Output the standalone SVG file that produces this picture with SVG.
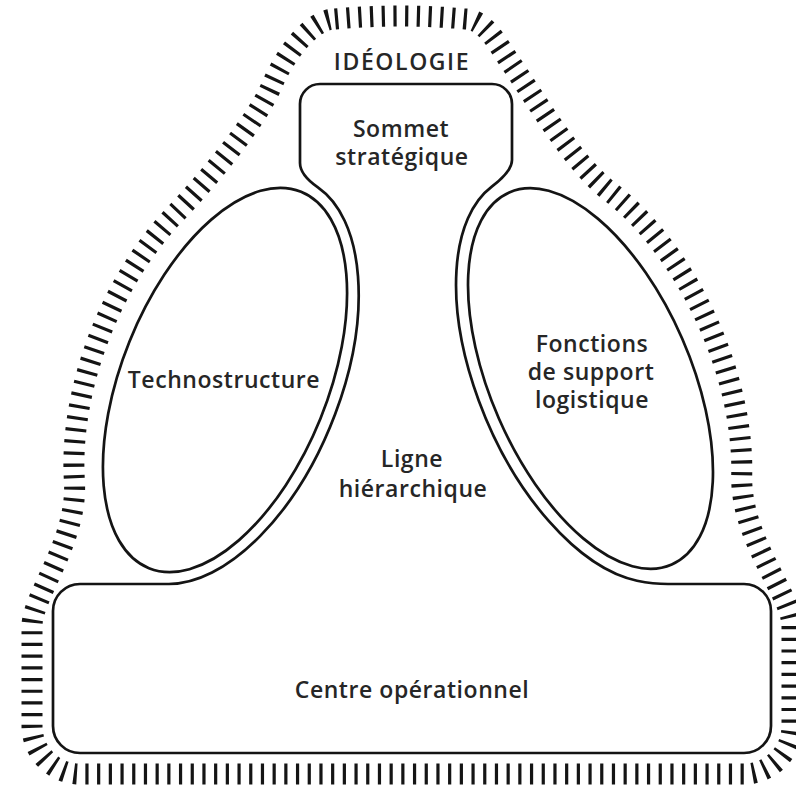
<svg xmlns="http://www.w3.org/2000/svg" width="796" height="793" viewBox="0 0 796 793">
<style>
.line{fill:none;stroke:#141414;stroke-width:2.7;stroke-linejoin:round}
.hatch{fill:none;stroke:#141414;stroke-width:21;stroke-dasharray:3.2 8.5}
.t{font-family:"Open Sans","DejaVu Sans",sans-serif;font-size:23px;font-weight:600;letter-spacing:0.55px;fill:#262626;text-anchor:middle}
.caps{letter-spacing:1.6px}
</style>
<rect width="796" height="793" fill="#ffffff"/>
<g id="ideologie">
<path class="hatch" d="M335,19 Q400,13 465,19 C485,19 497.5,44 510,62 C535.7,98.9 573,163.5 608.8,190.7 A130 233 -23.6 0 1 741.7,475.9 C740.6,540 792,595 792,626 L792,726 A48 48 0 0 1 744,774 L80,774 A48 48 0 0 1 32,726 L32,626 C32,596 78.2,540.6 74.4,480.7 A133 233 22 0 1 174,215.3 C205.1,182.8 256.6,121.9 272,85 C283.6,57.3 310,19 335,19 Z"/>
<text class="t caps" x="402" y="70">IDÉOLOGIE</text>
</g>
<g id="noyau">
<path class="line" d="M300,104 A20 20 0 0 1 320,84 L492,84 A20 20 0 0 1 512,104 L512,160 Q512,171.4 491.8,186.6 A112 217 -23.6 0 0 637,580.7 Q653.1,584 668,584 L744,584 A27 27 0 0 1 771,611 L771,726 A27 27 0 0 1 744,753 L80,753 A27 27 0 0 1 53,726 L53,611 A27 27 0 0 1 80,584 L168.4,584 A115 215 22 0 0 317.9,187.4 Q300,174.9 300,163 Z"/>
</g>
<g id="sommet">
<text class="t"><tspan x="401" y="137">Sommet</tspan><tspan x="402" y="165">stratégique</tspan></text>
</g>
<g id="technostructure">
<ellipse class="line" cx="225" cy="380" rx="103" ry="203" transform="rotate(22 225 380)"/>
<text class="t" x="224" y="388">Technostructure</text>
</g>
<g id="support">
<ellipse class="line" cx="590.5" cy="378.5" rx="100" ry="203" transform="rotate(-23.6 590.5 378.5)"/>
<text class="t"><tspan x="592" y="352">Fonctions</tspan><tspan x="591" y="380">de support</tspan><tspan x="592" y="408">logistique</tspan></text>
</g>
<g id="ligne">
<text class="t"><tspan x="412" y="467">Ligne</tspan><tspan x="413" y="497">hiérarchique</tspan></text>
</g>
<g id="centre">
<text class="t" x="412" y="698">Centre opérationnel</text>
</g>
<g id="connectors"/>
</svg>
